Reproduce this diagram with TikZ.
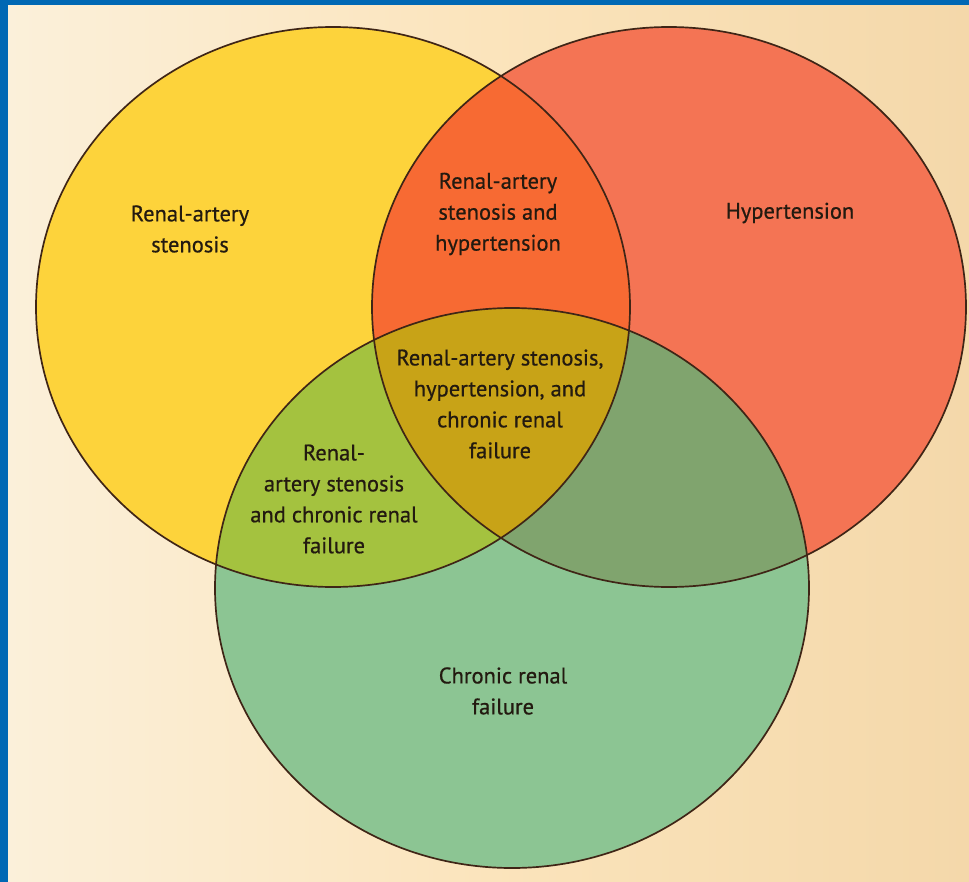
\documentclass[tikz,border=0pt]{standalone}
\usepackage{fontspec}
\setmainfont{PT Sans}
\newfontfamily\vennfont{PT Sans}[FakeBold=0.6]
\usepackage{tikz}
\usetikzlibrary{calc, backgrounds}
\usepackage{xcolor}

\definecolor{bordblue}{HTML}{0068B4}
\definecolor{bgpale}{HTML}{FBF0DA}
\definecolor{bgmid}{HTML}{FBE4BC}
\definecolor{bgdark}{HTML}{F4D8AA}
\definecolor{stenyellow}{HTML}{FDD33B}
\definecolor{hyperred}{HTML}{F47454}
\definecolor{crfgreen}{HTML}{8CC593}
\definecolor{sthyorange}{HTML}{F76A33}
\definecolor{stcrlime}{HTML}{A4C23F}
\definecolor{hycrgreen}{HTML}{80A46E}
\definecolor{allgold}{HTML}{C8A317}
\definecolor{rimbrown}{HTML}{3F2516}
\definecolor{labeltext}{HTML}{231A10}

\begin{document}
\begin{tikzpicture}[x=0.025cm, y=-0.025cm, every node/.style={font=\vennfont\fontsize{16}{22}\selectfont, text=labeltext, align=center}]

                \coordinate (O) at (0, 0);
                \useasboundingbox (O) rectangle (969, 882);

                % frame
                \fill[bordblue] (O) rectangle (969, 882);
                \shade[left color=bgpale, right color=bgdark, middle color=bgmid] ($ (O) + (8, 5) $) rectangle (969, 882);

                % centres of the three sets
                \coordinate (S) at ($ (O) + (333, 307) $);
                \coordinate (H) at ($ (O) + (669, 307) $);
                \coordinate (C) at ($ (O) + (512, 588) $);

                % single sets
                \fill[stenyellow] (S) ellipse (297 and 280);
                \fill[hyperred] (H) ellipse (297 and 280);
                \fill[crfgreen] (C) ellipse (297 and 280);

                % overlaps with stenosis
                \begin{scope}
                    \clip (S) ellipse (297 and 280);
                    \fill[sthyorange] (H) ellipse (297 and 280);
                    \fill[stcrlime] (C) ellipse (297 and 280);
                \end{scope}

                % overlap hypertension / renal failure, and all three
                \begin{scope}
                    \clip (H) ellipse (297 and 280);
                    \fill[hycrgreen] (C) ellipse (297 and 280);
                    \clip (S) ellipse (297 and 280);
                    \fill[allgold] (C) ellipse (297 and 280);
                \end{scope}

                % outlines
                \draw[rimbrown, line width=1.2pt] (S) ellipse (297 and 280);
                \draw[rimbrown, line width=1.2pt] (H) ellipse (297 and 280);
                \draw[rimbrown, line width=1.2pt] (C) ellipse (297 and 280);

                % labels
                \node (sten) at ($ (O) + (190, 229) $) {Renal-artery\\stenosis};
                \node (hyper) at ($ (O) + (790, 213) $) {Hypertension};
                \node (stenhyper) at ($ (O) + (498, 214) $) {Renal-artery\\stenosis and\\hypertension};
                \node (all) at ($ (O) + (500, 404) $) {Renal-artery stenosis,\\hypertension, and\\chronic renal\\failure};
                \node (stencrf) at ($ (O) + (334, 499) $) {Renal-\\artery stenosis\\and chronic renal\\failure};
                \node (crf) at ($ (O) + (503, 691) $) {Chronic renal\\failure};

            \end{tikzpicture}
\end{document}
